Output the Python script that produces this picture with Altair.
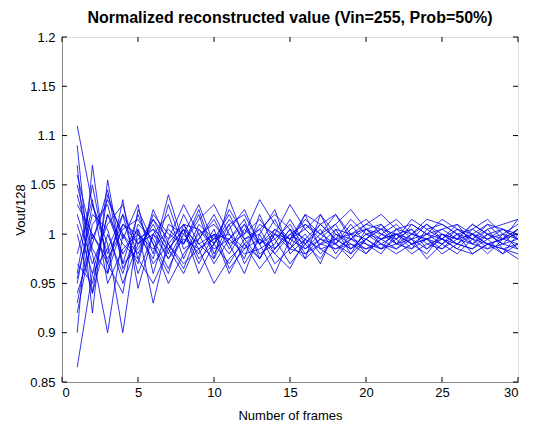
import altair as alt
import pandas as pd

frames = list(range(1, 31))
x_ticks = [0, 5, 10, 15, 20, 25, 30]
y_ticks = [0.85, 0.9, 0.95, 1.0, 1.05, 1.1, 1.15, 1.2]

s1 = [1.11, 1.03, 0.98, 1.01, 0.99, 1.00, 0.985, 1.005, 0.99, 1.00, 0.995, 1.01, 0.99, 1.00, 0.995, 1.005, 0.99, 0.995, 1.00, 1.005, 0.995, 1.00, 0.99, 0.995, 1.00, 0.995, 0.99, 1.00, 0.995, 0.99]
s2 = [0.865, 0.96, 1.02, 0.98, 1.005, 0.97, 0.99, 1.01, 0.985, 0.995, 1.02, 0.99, 1.005, 0.98, 1.00, 0.99, 1.01, 0.995, 0.985, 1.00, 1.005, 0.99, 1.00, 1.01, 0.995, 0.985, 1.00, 0.99, 0.995, 1.00]
s3 = [1.07, 0.92, 1.055, 0.97, 1.02, 0.98, 1.04, 0.99, 1.02, 0.975, 1.005, 1.025, 0.99, 1.015, 0.985, 1.01, 1.00, 1.02, 0.995, 1.005, 1.00, 0.99, 1.01, 1.00, 1.005, 0.995, 1.01, 1.00, 0.99, 1.005]
s4 = [0.90, 1.07, 0.96, 1.035, 0.945, 1.00, 0.975, 1.005, 0.96, 0.99, 1.01, 0.97, 0.995, 0.985, 1.005, 0.98, 0.99, 1.005, 0.98, 0.995, 0.985, 1.005, 0.99, 0.98, 1.00, 0.99, 0.985, 0.995, 1.00, 0.985]
s5 = [1.04, 0.98, 0.90, 1.00, 0.97, 1.025, 0.99, 0.965, 1.005, 0.985, 0.995, 1.015, 0.975, 1.00, 0.99, 1.02, 0.985, 0.99, 1.01, 0.99, 0.98, 1.00, 1.005, 0.99, 0.985, 1.00, 0.99, 1.005, 0.985, 0.98]
s6 = [0.95, 1.03, 0.99, 0.90, 1.005, 0.93, 0.995, 1.01, 0.975, 0.99, 0.97, 0.995, 1.00, 0.97, 0.985, 1.00, 0.98, 0.995, 0.985, 1.00, 0.99, 0.985, 1.00, 0.995, 0.98, 0.99, 1.00, 0.985, 0.99, 0.995]
s7 = [1.00, 0.94, 1.04, 0.995, 1.03, 0.96, 1.01, 1.00, 1.03, 0.99, 1.025, 1.00, 1.035, 1.01, 0.995, 1.015, 1.00, 1.01, 1.025, 1.005, 1.01, 0.995, 1.015, 1.005, 1.01, 1.00, 1.005, 1.015, 1.00, 1.01]
s8 = [0.96, 1.05, 0.97, 1.02, 0.99, 1.005, 0.975, 0.995, 0.985, 0.95, 0.975, 0.99, 0.965, 0.985, 1.005, 0.975, 0.99, 0.985, 0.99, 0.98, 0.995, 0.985, 0.995, 0.975, 0.99, 1.00, 0.98, 0.99, 0.985, 0.975]
s9 = [1.06, 0.995, 1.035, 1.00, 0.98, 1.015, 0.995, 1.03, 1.00, 1.01, 0.99, 1.00, 1.015, 0.995, 1.01, 0.985, 1.00, 0.99, 1.005, 1.015, 1.00, 1.01, 0.995, 1.00, 1.015, 1.005, 0.995, 1.005, 1.01, 1.015]
s10 = [0.92, 1.00, 0.97, 0.94, 1.025, 0.99, 0.95, 0.98, 1.00, 0.97, 0.995, 0.98, 0.985, 0.995, 0.97, 0.99, 0.975, 1.00, 0.99, 0.985, 0.99, 0.98, 0.99, 1.00, 0.99, 0.98, 0.995, 0.99, 0.98, 0.99]
s11 = [1.02, 0.97, 1.01, 1.03, 0.975, 1.02, 1.00, 0.99, 1.015, 1.03, 1.00, 0.985, 1.01, 1.00, 1.03, 1.005, 1.02, 1.00, 0.995, 1.01, 1.005, 1.015, 1.00, 0.995, 1.005, 1.01, 1.00, 0.995, 1.005, 1.00]
s12 = [0.98, 1.035, 0.95, 0.985, 1.00, 0.975, 1.03, 0.985, 0.995, 1.015, 0.985, 1.01, 0.98, 0.99, 1.015, 0.99, 1.005, 0.98, 1.00, 0.995, 1.01, 0.99, 0.985, 1.005, 0.995, 1.01, 0.99, 0.985, 1.00, 0.995]
s13 = [1.09, 0.94, 1.00, 0.96, 1.01, 0.995, 0.965, 1.00, 0.98, 1.005, 0.965, 0.985, 0.995, 0.98, 0.965, 0.995, 0.985, 0.975, 0.995, 0.99, 0.985, 0.995, 0.98, 0.99, 0.995, 0.985, 0.98, 0.99, 0.985, 0.99]
s14 = [0.93, 1.01, 1.03, 0.97, 0.985, 1.01, 0.98, 1.02, 0.99, 0.975, 1.035, 0.995, 0.975, 1.005, 0.99, 0.975, 1.02, 0.99, 0.98, 1.005, 0.99, 1.00, 0.985, 0.995, 0.99, 1.005, 0.995, 0.98, 0.995, 1.005]
s15 = [1.01, 0.96, 0.985, 1.02, 0.96, 1.00, 1.02, 0.975, 1.01, 0.995, 1.00, 0.975, 1.02, 0.985, 1.00, 1.01, 0.995, 1.01, 0.985, 0.995, 1.005, 1.00, 0.995, 1.01, 1.00, 0.995, 1.01, 1.00, 1.005, 0.995]
s16 = [0.955, 1.02, 1.005, 0.95, 0.99, 1.015, 0.985, 0.96, 0.995, 1.02, 0.99, 0.96, 1.00, 1.025, 0.98, 0.995, 0.97, 1.005, 1.00, 0.98, 1.00, 0.995, 1.005, 0.985, 0.995, 0.99, 1.005, 0.995, 0.98, 1.00]
s17 = [1.05, 0.985, 0.96, 1.01, 1.00, 0.985, 1.005, 0.99, 1.025, 0.98, 1.01, 1.02, 0.99, 1.005, 0.995, 1.02, 1.01, 0.995, 1.015, 1.00, 0.995, 1.005, 1.01, 1.00, 0.995, 1.005, 1.00, 1.01, 0.995, 1.005]
s18 = [0.97, 0.95, 1.02, 0.99, 0.975, 0.95, 0.985, 1.005, 0.97, 1.00, 0.98, 1.005, 0.99, 0.96, 0.995, 0.985, 0.995, 0.99, 0.975, 0.995, 0.985, 0.99, 0.995, 0.985, 1.00, 0.99, 0.985, 1.00, 0.99, 0.985]
s19 = [1.03, 1.00, 0.975, 1.005, 1.015, 0.99, 0.96, 1.01, 1.005, 0.99, 1.015, 0.995, 1.005, 1.02, 1.005, 0.995, 1.01, 1.02, 1.00, 1.01, 1.02, 1.005, 1.00, 1.015, 1.01, 1.00, 0.995, 1.01, 1.005, 0.995]
s20 = [0.94, 0.99, 1.045, 0.965, 0.995, 1.005, 0.99, 0.97, 0.985, 1.00, 0.96, 0.99, 0.975, 1.00, 0.985, 0.98, 0.995, 0.985, 0.995, 0.985, 0.995, 1.00, 0.99, 0.995, 0.985, 0.995, 1.00, 0.99, 0.995, 1.015]

series = [s1, s2, s3, s4, s5, s6, s7, s8, s9, s10, s11, s12, s13, s14, s15, s16, s17, s18, s19, s20]

rows = []
for i, s in enumerate(series):
    for f, v in zip(frames, s):
        rows.append({"run": i, "frame": f, "value": v})
df = pd.DataFrame(rows)

W, H = 456, 345
FONT = "Liberation Sans"
TXT = "#222222"

xscale = alt.Scale(domain=[0, 30], nice=False, zero=False)
yscale = alt.Scale(domain=[0.85, 1.2], nice=False, zero=False)

lines = alt.Chart(df).mark_line(color="#0000ee", strokeWidth=0.8, clip=True).encode(
    x=alt.X("frame:Q", scale=xscale,
            axis=alt.Axis(title="Number of frames", values=x_ticks, tickSize=0,
                          labelPadding=4, grid=False, format="d",
                          titleFontWeight="normal", titlePadding=10,
                          labelFontSize=13, titleFontSize=13)),
    y=alt.Y("value:Q", scale=yscale,
            axis=alt.Axis(title="Vout/128", values=y_ticks, tickSize=0,
                          labelPadding=7, grid=False,
                          titleFontWeight="normal", titlePadding=2,
                          labelFontSize=13, titleFontSize=13,
                          labelExpr="datum.value == 1 ? '1' : format(datum.value, '.3~f')")),
    detail="run:N",
)

xt = pd.DataFrame({"t": x_ticks})
yt = pd.DataFrame({"t": y_ticks})
TL = 5
tb = alt.Chart(xt).mark_rule(color="black", strokeWidth=1).encode(
    x=alt.X("t:Q", scale=xscale), y=alt.value(H), y2=alt.value(H - TL))
tt = alt.Chart(xt).mark_rule(color="black", strokeWidth=1).encode(
    x=alt.X("t:Q", scale=xscale), y=alt.value(0), y2=alt.value(TL))
tl = alt.Chart(yt).mark_rule(color="black", strokeWidth=1).encode(
    y=alt.Y("t:Q", scale=yscale), x=alt.value(0), x2=alt.value(TL))
tr = alt.Chart(yt).mark_rule(color="black", strokeWidth=1).encode(
    y=alt.Y("t:Q", scale=yscale), x=alt.value(W), x2=alt.value(W - TL))

chart = alt.layer(lines, tb, tt, tl, tr).properties(
    width=W, height=H,
    title=alt.TitleParams("Normalized reconstructed value (Vin=255, Prob=50%)",
                          font=FONT, fontSize=16, fontWeight="bold", color="black", offset=5),
    autosize=alt.AutoSizeParams(type="none"),
    padding={"left": 54, "top": 29, "right": 9, "bottom": 44},
).configure_view(stroke="black", strokeWidth=1).configure_axis(
    domainColor="black", labelColor=TXT, titleColor=TXT,
    labelFont=FONT, titleFont=FONT,
).configure(background="white")

chart.save("out.html", embed_options={"renderer": "svg", "actions": False})
